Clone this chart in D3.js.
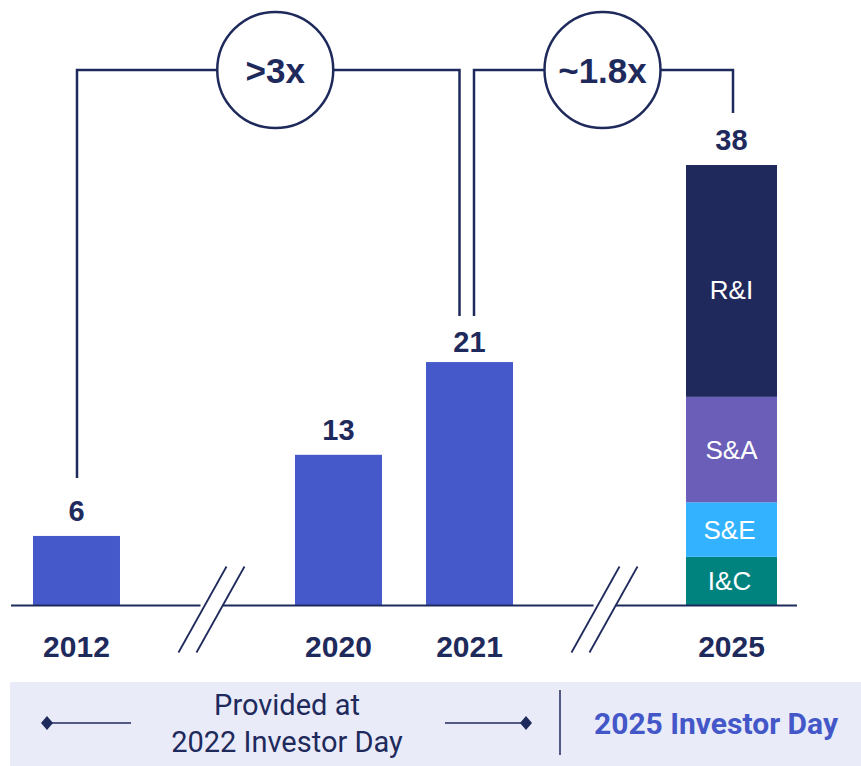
<!DOCTYPE html>
<html>
<head>
<meta charset="utf-8">
<script src="https://cdn.jsdelivr.net/npm/d3@7/dist/d3.min.js"></script>
<style>
  html, body { margin: 0; padding: 0; background: #ffffff; }
  svg { display: block; }
</style>
</head>
<body>
<svg id="chart" width="861" height="766"></svg>
<script>
// Revenue by year (bars) and 2025 split by segment (stack)
const years = ["2012", "2020", "2021", "2025"];
const totals = [6, 13, 21, 38];
// Horizontal slots, including the two axis breaks
const slots = ["2012", "breakA", "2020", "2021", "breakB", "2025"];
const breaks = ["breakA", "breakB"];
// 2025 stack, bottom to top
const segNames = ["I&C", "S&E", "S&A", "R&I"];
const segValues = [4.2, 4.7, 9.1, 20.0];
const segColors = ["#00827f", "#33b3ff", "#6a5eb8", "#20295b"];
// Growth multiples between years
const multLabels = [">3x", "~1.8x"];
const multFrom = ["2012", "2021"];
const multTo = ["2021", "2025"];
// Bottom banner texts
const bannerLeft = ["Provided at", "2022 Investor Day"];
const bannerRight = "2025 Investor Day";

const NAVY = "#1f2a5c";
const BLUE = "#4559cb";
const FONT = "'Liberation Sans', Arial, sans-serif";
const BANNER_FONT = "Roboto, 'Liberation Sans', sans-serif";

const svg = d3.select("#chart");

const x = d3.scaleBand()
  .domain(slots)
  .range([33, 775])
  .paddingInner(0.336)
  .paddingOuter(0);

const baseY = 605.5;
const y = d3.scaleLinear().domain([0, 38]).range([baseY, 165]);

const cx = k => x(k) + x.bandwidth() / 2;

// Simple bars (all years except the stacked one)
const simple = years.map((yr, i) => ({ yr, v: totals[i] })).filter(d => d.yr !== "2025");
svg.append("g").selectAll("rect").data(simple).join("rect")
  .attr("x", d => x(d.yr))
  .attr("width", x.bandwidth())
  .attr("y", d => y(d.v))
  .attr("height", d => y(0) - y(d.v))
  .attr("fill", BLUE);

// Stacked 2025 bar
const stackRows = [Object.fromEntries(segNames.map((n, i) => [n, segValues[i]]))];
const series = d3.stack().keys(segNames)(stackRows);
const sg = svg.append("g");
series.forEach((s, i) => {
  const d = s[0];
  sg.append("rect")
    .attr("x", x("2025") - 2)
    .attr("width", x.bandwidth() + 4)
    .attr("y", y(d[1]))
    .attr("height", y(d[0]) - y(d[1]))
    .attr("fill", segColors[i]);
  sg.append("text")
    .attr("x", cx("2025") - (i < 2 ? 2 : 0))
    .attr("y", (y(d[0]) + y(d[1])) / 2 + (i === 3 ? 9 : 0))
    .attr("dy", "0.35em")
    .attr("text-anchor", "middle")
    .attr("font-family", FONT)
    .attr("font-size", 26)
    .attr("fill", "#ffffff")
    .text(segNames[i]);
});

// Value labels
svg.append("g").selectAll("text").data(years.map((yr, i) => ({ yr, v: totals[i] }))).join("text")
  .attr("x", d => cx(d.yr))
  .attr("y", d => y(d.v) - (d.v === 21 ? 10 : 15))
  .attr("text-anchor", "middle")
  .attr("font-family", FONT)
  .attr("font-weight", "bold")
  .attr("font-size", 29)
  .attr("fill", NAVY)
  .text(d => d.v);

// Baseline with breaks
const breakHalf = 11;
const breakCenters = breaks.map(b => cx(b) + 4);
const segs = [];
let start = 11;
breakCenters.forEach(c => { segs.push([start, c - breakHalf]); start = c + breakHalf; });
segs.push([start, 797]);
svg.append("g").selectAll("line").data(segs).join("line")
  .attr("x1", d => d[0]).attr("x2", d => d[1])
  .attr("y1", baseY).attr("y2", baseY)
  .attr("stroke", NAVY).attr("stroke-width", 2);

// Break marks: two parallel slashes
const bg = svg.append("g");
breakCenters.forEach(c => {
  [-9, 9].forEach(off => {
    const mx = c + off, my = baseY + 4;
    bg.append("line")
      .attr("x1", mx - 24).attr("y1", my + 43)
      .attr("x2", mx + 24).attr("y2", my - 43)
      .attr("stroke", NAVY).attr("stroke-width", 1.8);
  });
});

// Year labels
svg.append("g").selectAll("text").data(years).join("text")
  .attr("x", d => cx(d))
  .attr("y", 657)
  .attr("text-anchor", "middle")
  .attr("font-family", FONT)
  .attr("font-weight", "bold")
  .attr("font-size", 30)
  .attr("fill", NAVY)
  .text(d => d);

// Growth brackets with circled multiples
const topY = 70;
const r = 58;
const endGap = { "2012": 58, "2021": 46, "2025": 52 };
const bk = svg.append("g").attr("fill", "none").attr("stroke", NAVY).attr("stroke-width", 2.5);
multLabels.forEach((lab, i) => {
  const a = multFrom[i], b = multTo[i];
  const va = totals[years.indexOf(a)], vb = totals[years.indexOf(b)];
  const xa = cx(a) + (i === 0 ? 0.5 : 4.5);
  const xb = cx(b) + (i === 0 ? -10 : 1.5);
  const ya = y(va) - endGap[a];
  const yb = y(vb) - endGap[b];
  const mid = (xa + xb) / 2 + (i === 0 ? 7 : -1);
  bk.append("path").attr("d", `M${xa},${ya}V${topY}H${mid - r}`);
  bk.append("path").attr("d", `M${mid + r},${topY}H${xb}V${yb}`);
  bk.append("circle").attr("cx", mid).attr("cy", topY).attr("r", r);
  svg.append("text")
    .attr("x", mid).attr("y", topY)
    .attr("dy", "0.36em")
    .attr("text-anchor", "middle")
    .attr("font-family", FONT)
    .attr("font-weight", "bold")
    .attr("font-size", 35)
    .attr("fill", NAVY)
    .text(lab);
});

// Bottom banner
const banner = svg.append("g");
banner.append("rect")
  .attr("x", 10).attr("y", 682).attr("width", 851).attr("height", 84)
  .attr("fill", "#e9ecf8");
const midY = 723;
const diamond = (px) => `M${px - 6},${midY}L${px},${midY - 7}L${px + 6},${midY}L${px},${midY + 7}Z`;
banner.append("line").attr("x1", 47).attr("x2", 131).attr("y1", midY).attr("y2", midY)
  .attr("stroke", NAVY).attr("stroke-width", 1.5);
banner.append("line").attr("x1", 445).attr("x2", 526).attr("y1", midY).attr("y2", midY)
  .attr("stroke", NAVY).attr("stroke-width", 1.5);
banner.append("path").attr("d", diamond(47)).attr("fill", NAVY);
banner.append("path").attr("d", diamond(526)).attr("fill", NAVY);
banner.append("line").attr("x1", 560).attr("x2", 560).attr("y1", 690).attr("y2", 755)
  .attr("stroke", NAVY).attr("stroke-width", 1.5);
banner.selectAll("text.left").data(bannerLeft).join("text")
  .attr("class", "left")
  .attr("x", 287)
  .attr("y", (d, i) => 715 + i * 37)
  .attr("text-anchor", "middle")
  .attr("font-family", BANNER_FONT)
  .attr("font-size", 29)
  .attr("fill", NAVY)
  .text(d => d);
banner.append("text")
  .attr("x", 716).attr("y", 734)
  .attr("text-anchor", "middle")
  .attr("font-family", BANNER_FONT)
  .attr("font-weight", "bold")
  .attr("font-size", 30)
  .attr("fill", "#4357c8")
  .text(bannerRight);
</script>
</body>
</html>
